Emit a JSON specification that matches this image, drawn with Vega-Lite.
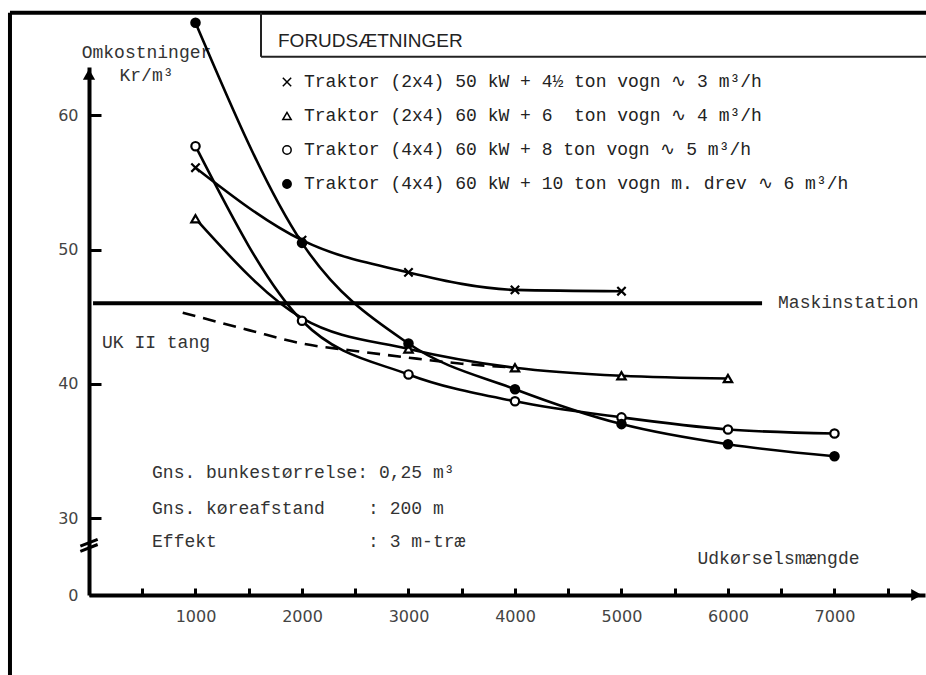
{
  "$schema": "https://vega.github.io/schema/vega-lite/v6.json",
  "width": 836,
  "height": 528,
  "autosize": {"type": "none"},
  "padding": {"left": 89, "top": 67, "right": 1, "bottom": 80},
  "background": "white",
  "view": {"stroke": null},
  "datasets": {
    "series": [
      {"s": "Traktor (2x4) 50 kW + 4½ ton vogn ∿ 3 m³/h", "x": 1000, "y": 56.1, "m": true},
      {"s": "Traktor (2x4) 50 kW + 4½ ton vogn ∿ 3 m³/h", "x": 2000, "y": 50.7, "m": true},
      {"s": "Traktor (2x4) 50 kW + 4½ ton vogn ∿ 3 m³/h", "x": 3000, "y": 48.3, "m": true},
      {"s": "Traktor (2x4) 50 kW + 4½ ton vogn ∿ 3 m³/h", "x": 4000, "y": 47.0, "m": true},
      {"s": "Traktor (2x4) 50 kW + 4½ ton vogn ∿ 3 m³/h", "x": 5000, "y": 46.9, "m": true},
      {"s": "Traktor (2x4) 60 kW + 6\u00a0 ton vogn ∿ 4 m³/h", "x": 1000, "y": 52.3, "m": true},
      {"s": "Traktor (2x4) 60 kW + 6\u00a0 ton vogn ∿ 4 m³/h", "x": 2000, "y": 44.9, "m": false},
      {"s": "Traktor (2x4) 60 kW + 6\u00a0 ton vogn ∿ 4 m³/h", "x": 3000, "y": 42.6, "m": true},
      {"s": "Traktor (2x4) 60 kW + 6\u00a0 ton vogn ∿ 4 m³/h", "x": 4000, "y": 41.2, "m": true},
      {"s": "Traktor (2x4) 60 kW + 6\u00a0 ton vogn ∿ 4 m³/h", "x": 5000, "y": 40.6, "m": true},
      {"s": "Traktor (2x4) 60 kW + 6\u00a0 ton vogn ∿ 4 m³/h", "x": 6000, "y": 40.4, "m": true},
      {"s": "Traktor (4x4) 60 kW + 8 ton vogn ∿ 5 m³/h", "x": 1000, "y": 57.7, "m": true},
      {"s": "Traktor (4x4) 60 kW + 8 ton vogn ∿ 5 m³/h", "x": 2000, "y": 44.7, "m": true},
      {"s": "Traktor (4x4) 60 kW + 8 ton vogn ∿ 5 m³/h", "x": 3000, "y": 40.7, "m": true},
      {"s": "Traktor (4x4) 60 kW + 8 ton vogn ∿ 5 m³/h", "x": 4000, "y": 38.7, "m": true},
      {"s": "Traktor (4x4) 60 kW + 8 ton vogn ∿ 5 m³/h", "x": 5000, "y": 37.5, "m": true},
      {"s": "Traktor (4x4) 60 kW + 8 ton vogn ∿ 5 m³/h", "x": 6000, "y": 36.6, "m": true},
      {"s": "Traktor (4x4) 60 kW + 8 ton vogn ∿ 5 m³/h", "x": 7000, "y": 36.3, "m": true},
      {"s": "Traktor (4x4) 60 kW + 10 ton vogn m. drev ∿ 6 m³/h", "x": 1000, "y": 66.9, "m": true},
      {"s": "Traktor (4x4) 60 kW + 10 ton vogn m. drev ∿ 6 m³/h", "x": 2000, "y": 50.5, "m": true},
      {"s": "Traktor (4x4) 60 kW + 10 ton vogn m. drev ∿ 6 m³/h", "x": 3000, "y": 43.0, "m": true},
      {"s": "Traktor (4x4) 60 kW + 10 ton vogn m. drev ∿ 6 m³/h", "x": 4000, "y": 39.6, "m": true},
      {"s": "Traktor (4x4) 60 kW + 10 ton vogn m. drev ∿ 6 m³/h", "x": 5000, "y": 37.0, "m": true},
      {"s": "Traktor (4x4) 60 kW + 10 ton vogn m. drev ∿ 6 m³/h", "x": 6000, "y": 35.5, "m": true},
      {"s": "Traktor (4x4) 60 kW + 10 ton vogn m. drev ∿ 6 m³/h", "x": 7000, "y": 34.6, "m": true}
    ],
    "refs": [
      {"name": "Maskinstation", "x": 38, "y": 46.0},
      {"name": "Maskinstation", "x": 6320, "y": 46.0},
      {"name": "UK II tang", "x": 880, "y": 45.3},
      {"name": "UK II tang", "x": 1500, "y": 44.0},
      {"name": "UK II tang", "x": 2000, "y": 43.0},
      {"name": "UK II tang", "x": 2500, "y": 42.45},
      {"name": "UK II tang", "x": 3000, "y": 41.95},
      {"name": "UK II tang", "x": 3500, "y": 41.5},
      {"name": "UK II tang", "x": 4000, "y": 41.2}
    ],
    "labels": [
      {"label": "UK II tang", "x": 122, "y": 43.04},
      {"label": "Maskinstation", "x": 6470, "y": 46.05},
      {"label": "Gns. bunkestørrelse: 0,25 m³", "x": 592, "y": 33.36},
      {"label": "Gns. køreafstand\u00a0\u00a0\u00a0\u00a0: 200 m", "x": 592, "y": 30.68},
      {"label": "Effekt\u00a0\u00a0\u00a0\u00a0\u00a0\u00a0\u00a0\u00a0\u00a0\u00a0\u00a0\u00a0\u00a0\u00a0: 3 m-træ", "x": 592, "y": 28.22}
    ]
  },
  "encoding": {
    "x": {
      "field": "x",
      "type": "quantitative",
      "scale": {"domain": [0, 7850], "nice": false, "zero": false},
      "axis": {
        "title": "Udkørselsmængde",
        "titleFont": "Liberation Mono",
        "titleFontSize": 18,
        "titleFontWeight": "normal",
        "titleColor": "#333",
        "titleX": 689,
        "titleY": -32,
        "titleAlign": "center",
        "titleBaseline": "alphabetic",
        "values": [500, 1000, 1500, 2000, 2500, 3000, 3500, 4000, 4500, 5000, 5500, 6000, 6500, 7000, 7500],
        "format": "d",
        "labelExpr": "datum.value % 1000 === 0 ? datum.label : ''",
        "grid": false,
        "domainColor": "black",
        "domainWidth": 4,
        "tickColor": "black",
        "tickWidth": 3,
        "tickSize": -7,
        "labelPadding": 20,
        "labelFont": "DejaVu Sans",
        "labelFontSize": 16,
        "labelColor": "#444",
        "labelFlush": false,
        "labelOverlap": false
      }
    },
    "y": {
      "field": "y",
      "type": "quantitative",
      "scale": {"domain": [24.27, 63.6], "nice": false, "zero": false},
      "axis": {
        "title": ["Omkostninger", "Kr/m³"],
        "titleFont": "Liberation Mono",
        "titleFontSize": 18,
        "titleFontWeight": "normal",
        "titleColor": "#333",
        "titleAngle": 0,
        "titleX": 57,
        "titleY": -10,
        "titleAlign": "center",
        "titleBaseline": "alphabetic",
        "titleLineHeight": 23,
        "values": [24.27, 30, 40, 50, 60],
        "format": "d",
        "labelExpr": "datum.value < 25 ? '0' : datum.label",
        "grid": false,
        "domainColor": "black",
        "domainWidth": 4,
        "tickColor": "black",
        "tickWidth": 3,
        "tickSize": -12,
        "labelPadding": 23,
        "labelFont": "DejaVu Sans",
        "labelFontSize": 16,
        "labelColor": "#444",
        "labelFlush": false,
        "labelOverlap": false
      }
    }
  },
  "layer": [
    {
      "data": {"values": [
        {"x": -742, "y": 67.64, "x2": -742, "y2": 17.9},
        {"x": -742, "y": 67.64, "x2": 7950, "y2": 67.64}
      ]},
      "mark": {"type": "rule", "color": "black", "strokeWidth": 4},
      "encoding": {"x2": {"field": "x2"}, "y2": {"field": "y2"}}
    },
    {
      "data": {"values": [
        {"x": 1615, "y": 67.64, "x2": 1615, "y2": 64.36},
        {"x": 1615, "y": 64.36, "x2": 7950, "y2": 64.36}
      ]},
      "mark": {"type": "rule", "color": "#222", "strokeWidth": 2},
      "encoding": {"x2": {"field": "x2"}, "y2": {"field": "y2"}}
    },
    {
      "data": {"name": "refs"},
      "transform": [{"filter": "datum.name === 'Maskinstation'"}],
      "mark": {"type": "line", "color": "black", "strokeWidth": 4},
      "encoding": {}
    },
    {
      "data": {"name": "refs"},
      "transform": [{"filter": "datum.name === 'UK II tang'"}],
      "mark": {"type": "line", "color": "black", "strokeWidth": 2.6, "strokeDash": [13, 8], "interpolate": "monotone"},
      "encoding": {}
    },
    {
      "data": {"name": "series"},
      "mark": {"type": "line", "color": "black", "strokeWidth": 2.6, "interpolate": "monotone"},
      "encoding": {"detail": {"field": "s"}}
    },
    {
      "data": {"name": "series"},
      "transform": [{"filter": "datum.m"}],
      "mark": {"type": "point", "filled": false, "color": "black", "strokeWidth": 2.2, "size": 70, "opacity": 1},
      "encoding": {
        "shape": {
          "field": "s",
          "type": "nominal",
          "scale": {
            "domain": [
              "Traktor (2x4) 50 kW + 4½ ton vogn ∿ 3 m³/h",
              "Traktor (2x4) 60 kW + 6\u00a0 ton vogn ∿ 4 m³/h",
              "Traktor (4x4) 60 kW + 8 ton vogn ∿ 5 m³/h",
              "Traktor (4x4) 60 kW + 10 ton vogn m. drev ∿ 6 m³/h"
            ],
            "range": ["M-1,-1L1,1M-1,1L1,-1", "triangle-up", "circle", "circle"]
          },
          "legend": {
            "orient": "none",
            "legendX": 189,
            "legendY": -35,
            "title": "FORUDSÆTNINGER",
            "titleFont": "Liberation Sans",
            "titleFontSize": 19,
            "titleFontWeight": "normal",
            "titleColor": "#222",
            "titleLimit": 0,
            "titlePadding": 22,
            "labelFont": "Liberation Mono",
            "labelFontSize": 18,
            "labelColor": "#222",
            "labelLimit": 0,
            "labelOffset": 8,
            "rowPadding": 16,
            "symbolSize": 70,
            "padding": 0,
            "encode": {"symbols": {"update": {
              "stroke": {"value": "black"},
              "strokeWidth": {"value": 2.2},
              "fill": {"scale": "fill", "field": "value"}
            }}}
          }
        },
        "fill": {
          "field": "s",
          "type": "nominal",
          "scale": {
            "domain": [
              "Traktor (2x4) 50 kW + 4½ ton vogn ∿ 3 m³/h",
              "Traktor (2x4) 60 kW + 6\u00a0 ton vogn ∿ 4 m³/h",
              "Traktor (4x4) 60 kW + 8 ton vogn ∿ 5 m³/h",
              "Traktor (4x4) 60 kW + 10 ton vogn m. drev ∿ 6 m³/h"
            ],
            "range": ["white", "white", "white", "black"]
          },
          "legend": null
        }
      }
    },
    {
      "data": {"name": "labels"},
      "mark": {"type": "text", "align": "left", "baseline": "middle", "font": "Liberation Mono", "fontSize": 18, "color": "#333"},
      "encoding": {"text": {"field": "label"}}
    },
    {
      "data": {"values": [{"x": 0, "y": 63.05}]},
      "mark": {"type": "point", "shape": "triangle-up", "filled": true, "color": "black", "size": 150, "opacity": 1}
    },
    {
      "data": {"values": [{"x": 7770, "y": 24.27}]},
      "mark": {"type": "point", "shape": "triangle-right", "filled": true, "color": "black", "size": 150, "opacity": 1}
    },
    {
      "data": {"values": [{"x": 0, "y": 28.0}]},
      "mark": {"type": "point", "shape": "M-1,0.75L1,-0.05M-1,0.15L1,-0.65", "filled": false, "stroke": "black", "strokeWidth": 3, "size": 300, "opacity": 1}
    }
  ]
}
